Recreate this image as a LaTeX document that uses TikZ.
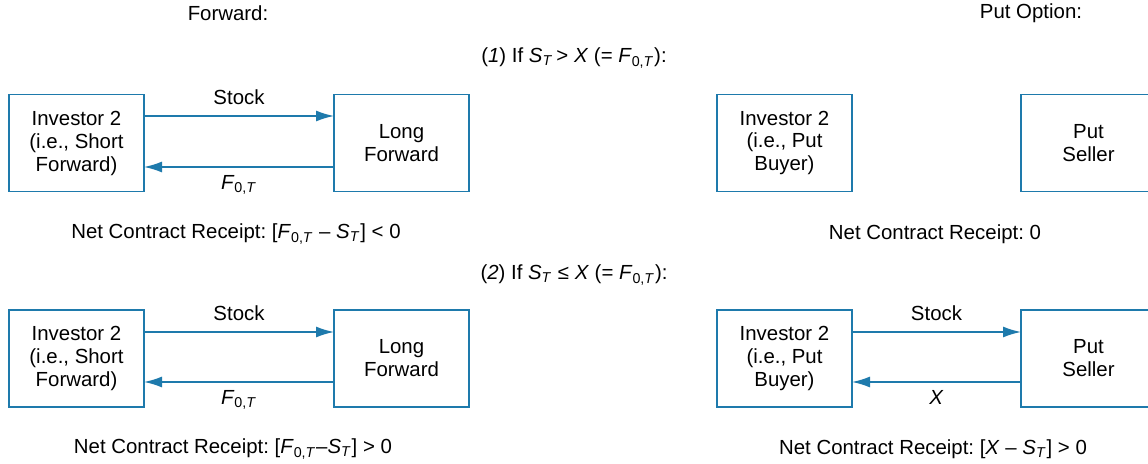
\documentclass[tikz,border=0pt]{standalone}
\usepackage{fontspec}
\setmainfont{Liberation Sans}
\frenchspacing
\usetikzlibrary{arrows.meta,positioning,calc}
\definecolor{cBlue}{RGB}{30,122,172}
\tikzset{
  box/.style={draw=cBlue, line width=0.6pt, minimum width=67.5pt, minimum height=48.5pt,
              align=center, inner sep=0pt, outer sep=0pt, font=\fontsize{10.2}{11.5}\selectfont},
  ar/.style={-{Latex[length=9pt,width=5.5pt]}, draw=cBlue, line width=0.8pt},
  lbl/.style={font=\fontsize{10.2}{11.5}\selectfont},
}
\newcommand{\fOT}{\textit{F}\textsubscript{0,\textit{T}}}
\newcommand{\sT}{\textit{S}\textsubscript{\textit{T}}}

\begin{document}
\begin{tikzpicture}[x=0.5pt,y=-0.5pt]
\useasboundingbox (0,0) rectangle (1148,464);
% headings
\node[lbl] (hfwd) at (228,13) {Forward:};
\node[lbl] (hput) at (1031,13) {Put Option:};
\node[lbl] (case1) at (574,58) {(\textit{1}) If \sT\,> \textit{X} (= \fOT):};
\node[lbl] (case2) at (574,275) {(\textit{2}) If \sT\ ≤ \textit{X} (= \fOT):};

% case 1
\node[box] (inv1) at (76.5,143) {Investor 2\\(i.e., Short\\Forward)};
\node[box, right=95pt of inv1] (long1) {Long\\Forward};
\node[box] (buy1) at (784.5,143) {Investor 2\\(i.e., Put\\Buyer)};
\node[box, right=84.5pt of buy1] (sell1) {Put\\Seller};

\draw[ar] ([yshift=13.5pt]inv1.east) -- node[above, lbl, inner sep=5pt] {Stock} ([yshift=13.5pt]long1.west);
\draw[ar] ([yshift=-12pt]long1.west) -- node[below, lbl, inner sep=4pt] {\fOT} ([yshift=-12pt]inv1.east);

\node[lbl] (net1) at (236,234) {Net Contract Receipt: [\fOT\ -- \sT] < 0};
\node[lbl] (net1p) at (935,234) {Net Contract Receipt: 0};

% case 2
\node[box] (inv2) at (76.5,358.5) {Investor 2\\(i.e., Short\\Forward)};
\node[box, right=95pt of inv2] (long2) {Long\\Forward};
\node[box] (buy2) at (784.5,358.5) {Investor 2\\(i.e., Put\\Buyer)};
\node[box, right=84.5pt of buy2] (sell2) {Put\\Seller};

\draw[ar] ([yshift=13.25pt]inv2.east) -- node[above, lbl, inner sep=5pt] {Stock} ([yshift=13.25pt]long2.west);
\draw[ar] ([yshift=-11.75pt]long2.west) -- node[below, lbl, inner sep=4pt] {\fOT} ([yshift=-11.75pt]inv2.east);
\draw[ar] ([yshift=13.25pt]buy2.east) -- node[above, lbl, inner sep=5pt] {Stock} ([yshift=13.25pt]sell2.west);
\draw[ar] ([yshift=-11.75pt]sell2.west) -- node[below, lbl, inner sep=4pt] {\textit{X}} ([yshift=-11.75pt]buy2.east);

\node[lbl] (net2) at (233,449) {Net Contract Receipt: [\fOT--\sT] > 0};
\node[lbl] (net2p) at (933,449) {Net Contract Receipt: [\textit{X} -- \sT] > 0};
\end{tikzpicture}
\end{document}
